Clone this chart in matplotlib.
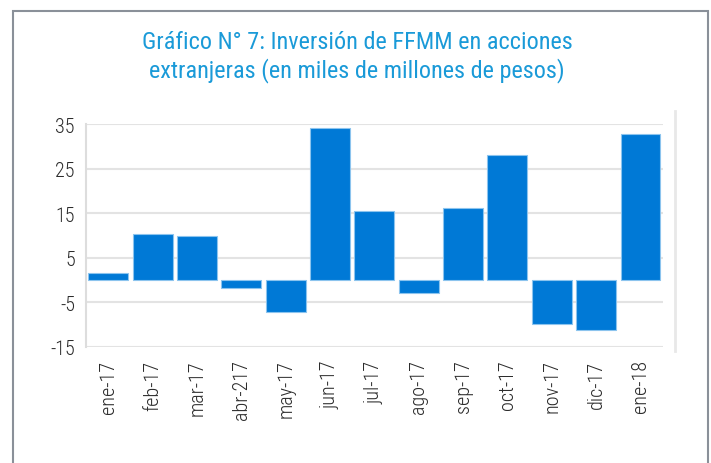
import matplotlib.pyplot as plt
from matplotlib.patches import Rectangle
from matplotlib.lines import Line2D
import numpy as np

meses = ['ene-17', 'feb-17', 'mar-17', 'abr-217', 'may-17', 'jun-17', 'jul-17',
         'ago-17', 'sep-17', 'oct-17', 'nov-17', 'dic-17', 'ene-18']
valores = [1.7, 10.3, 9.8, -1.8, -7.1, 34.0, 15.4, -2.9, 16.2, 28.1, -9.8, -11.3, 32.7]
yticks = [-15, -5, 5, 15, 25, 35]

fuente = ['Roboto Condensed', 'DejaVu Sans']
azul = '#0079d6'

fig = plt.figure(figsize=(7.11, 4.64), dpi=100)
ax = fig.add_axes([0.121, 0.25, 0.811, 0.4806])

x = np.arange(len(meses))
ax.bar(x, valores, width=0.9, color=azul, edgecolor='#8cc4ee', linewidth=0.8, zorder=3)

ax.set_xlim(-0.5, len(meses) - 0.5)
ax.set_ylim(-15, 35)
ax.set_yticks(yticks)
ax.set_yticklabels([str(v) for v in yticks], family=fuente, fontsize=14.5,
                   fontweight='light', color='#2b2b2b')
ax.set_xticks(x)
ax.set_xticklabels(meses, rotation=90, family=fuente, fontsize=14.5,
                   fontweight='light', color='#2b2b2b')
ax.tick_params(axis='y', length=0, pad=8)
ax.tick_params(axis='x', length=0, pad=9)
ax.grid(axis='y', color='#e3e3e3', linewidth=1.5, zorder=0)
for s in ['top', 'right', 'bottom']:
    ax.spines[s].set_visible(False)
ax.spines['left'].set_color('#dddddd')
ax.spines['left'].set_linewidth(1.5)

# marco exterior y linea decorativa a la derecha
fig.patches.append(Rectangle((13 / 711, -0.1), (708 - 13) / 711, 1.1 - 12 / 464,
                             transform=fig.transFigure, fill=False,
                             edgecolor='#8a9099', linewidth=1.5))
fig.lines.append(Line2D([675 / 711, 675 / 711], [1 - 112 / 464, 1 - 352 / 464],
                        transform=fig.transFigure, color='#e8e8e8', linewidth=2))

fig.text(0.502, 1 - 57 / 464,
         'Gráfico N° 7: Inversión de FFMM en acciones\nextranjeras (en miles de millones de pesos)',
         ha='center', va='center', family=fuente, fontsize=17.5, color='#1a9ad8',
         linespacing=1.25)

fig.savefig('out.png', dpi=100)
